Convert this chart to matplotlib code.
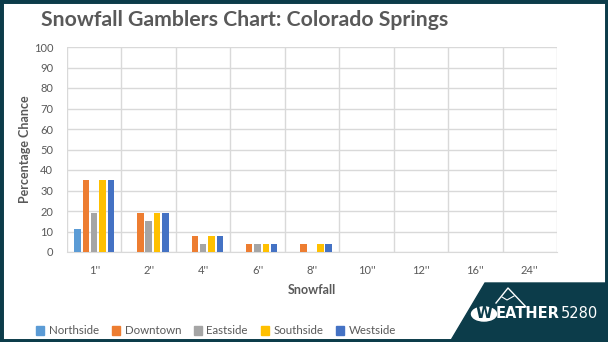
import numpy as np
import matplotlib.pyplot as plt
from matplotlib.patches import Polygon, Circle, Rectangle
from matplotlib.lines import Line2D

plt.rcParams['font.family'] = ['Lato', 'DejaVu Sans']

snowfall = ["1''", "2''", "4''", "6''", "8''", "10''", "12''", "16''", "24''"]
northside = [11, 0, 0, 0, 0, 0, 0, 0, 0]
downtown = [35, 19, 8, 4, 4, 0, 0, 0, 0]
eastside = [19, 15, 4, 4, 0, 0, 0, 0, 0]
southside = [35, 19, 8, 4, 4, 0, 0, 0, 0]
westside = [35, 19, 8, 4, 4, 0, 0, 0, 0]
areas = ['Northside', 'Downtown', 'Eastside', 'Southside', 'Westside']
colors = ['#5B9BD5', '#ED7D31', '#A5A5A5', '#FFC000', '#4472C4']

W, H = 608, 342
teal = '#0c3c4a'
gray = '#595959'

fig = plt.figure(figsize=(W / 100, H / 100), dpi=100)

def fx(x):
    return x / W

def fy(y):
    return 1 - y / H

ax = fig.add_axes([fx(67), fy(252), fx(557) - fx(67), fy(47) - fy(252)])
x = np.arange(len(snowfall))
step = 0.153
bw = 0.12
series = [northside, downtown, eastside, southside, westside]
for i, (vals, c, name) in enumerate(zip(series, colors, areas)):
    ax.bar(x + (i - 2) * step, vals, bw, color=c, label=name, zorder=3)

ax.set_xlim(-0.5, len(snowfall) - 0.5)
ax.set_ylim(0, 100)
ax.set_yticks(range(0, 101, 10))
ax.set_xticks(x)
ax.set_xticklabels(snowfall)
ax.set_xticks(np.arange(-0.5, len(snowfall)), minor=True)
ax.grid(True, axis='y', color='#d9d9d9', lw=1, zorder=0)
ax.grid(True, axis='x', which='minor', color='#d9d9d9', lw=1, zorder=0)
ax.tick_params(which='both', length=0)
ax.tick_params(axis='y', pad=10, labelsize=8, labelcolor=gray)
ax.tick_params(axis='x', pad=9, labelsize=8, labelcolor=gray)
for s in ['top', 'right', 'left']:
    ax.spines[s].set_visible(False)
ax.spines['bottom'].set_color('#d9d9d9')
ax.set_xlabel('Snowfall', fontsize=9, fontweight='bold', color=gray, labelpad=6)
ax.set_ylabel('Percentage Chance', fontsize=9, fontweight='bold', color=gray, labelpad=2)

fig.text(fx(41), fy(20), 'Snowfall Gamblers Chart: Colorado Springs',
         fontsize=15.3, fontweight='bold', color=gray, va='center')

handles = [Rectangle((0, 0), 1, 1, color=c) for c in colors]
fig.legend(handles, areas, loc='center left', bbox_to_anchor=(fx(26), fy(331)),
           ncol=5, frameon=False, fontsize=8.3, labelcolor=gray,
           handlelength=0.7, handleheight=0.7, handletextpad=0.4, columnspacing=1.1)

# logo block in the corner
fig.patches.append(Polygon([(fx(450), fy(342)), (fx(485), fy(283)), (fx(608), fy(283)), (fx(608), fy(342))],
                           closed=True, transform=fig.transFigure, color=teal, zorder=1))
fig.patches.append(Circle((fx(484), fy(314)), 12.5 / W, transform=fig.transFigure,
                          color='white', zorder=2))
fig.lines.append(Line2D([fx(496), fx(508), fx(526)], [fy(303), fy(288), fy(307)],
                        transform=fig.transFigure, color='white', lw=1, zorder=2))
fig.lines.append(Line2D([fx(502), fx(507), fx(514)], [fy(297), fy(300), fy(296)],
                        transform=fig.transFigure, color='white', lw=0.8, zorder=2))
fig.text(fx(484), fy(314), 'W', fontsize=11, fontweight='bold', color=teal,
         ha='center', va='center', family='DejaVu Sans', zorder=3)
eather = fig.text(fx(496), fy(314), 'EATHER', fontsize=10.5, fontweight='bold', color='white',
                  ha='left', va='center', family='DejaVu Sans', zorder=3)
fig.canvas.draw()
bb = eather.get_window_extent()
fig.text((bb.x1 + 0.5) / W, fy(314), '5280', fontsize=10.5, color='white',
         ha='left', va='center', family='DejaVu Sans', zorder=3)

# outer frame
fig.patches.append(Rectangle((0, 0), 1, 1, transform=fig.transFigure, fill=False,
                             edgecolor=teal, lw=5, zorder=5))

fig.savefig('out.png', dpi=100)
